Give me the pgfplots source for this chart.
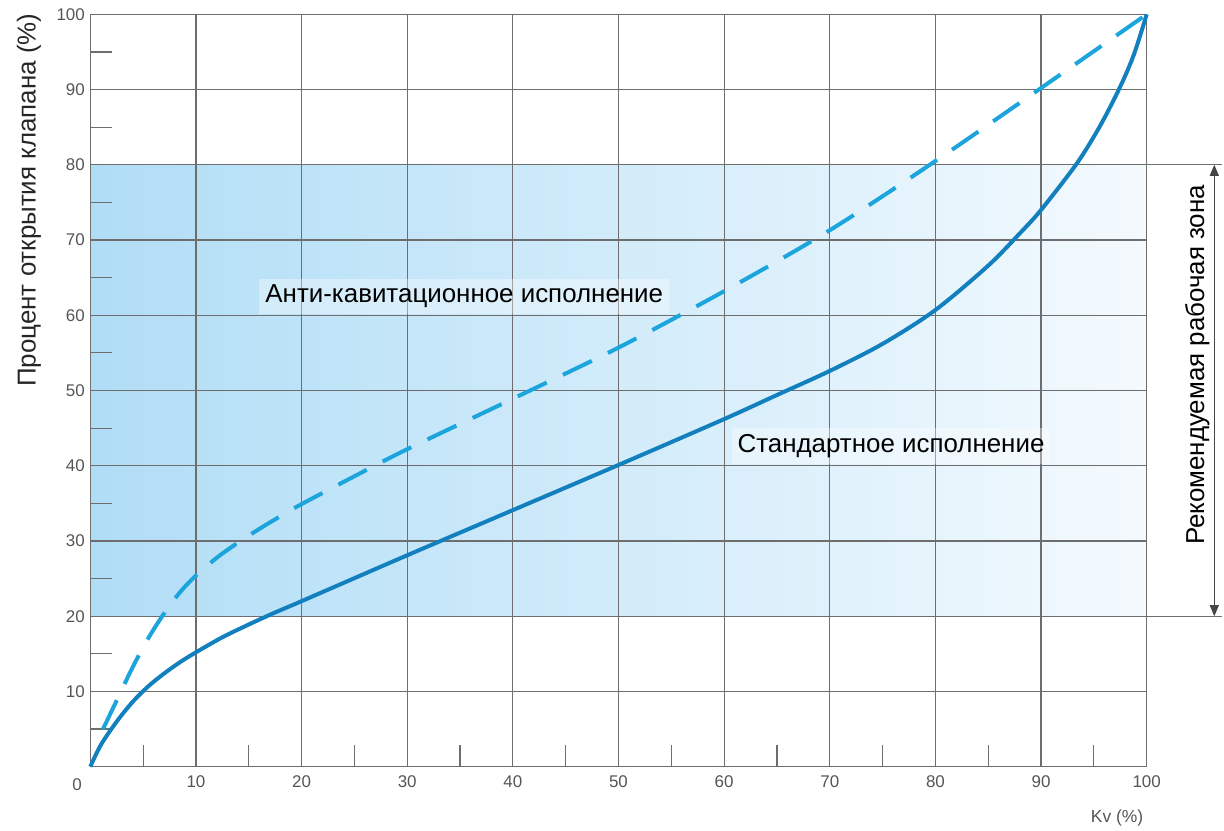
\documentclass[border=0pt]{standalone}
\usepackage{fontspec}
\setmainfont{Liberation Sans}
\usepackage{pgfplots}
\pgfplotsset{compat=1.18}
\usetikzlibrary{arrows.meta}
\definecolor{bandL}{RGB}{176,221,246}
\definecolor{bandR}{RGB}{244,250,254}
\definecolor{solidc}{RGB}{18,128,190}
\definecolor{dashc}{RGB}{28,164,220}
\definecolor{gridc}{RGB}{110,110,110}
\definecolor{tickc}{RGB}{85,85,85}
\definecolor{annc}{RGB}{70,70,70}
\begin{document}
\begin{tikzpicture}
\begin{axis}[
  set layers,
  at={(0,0)}, anchor=south west,
  scale only axis, width=1056.4bp, height=752.4bp,
  xmin=0, xmax=100, ymin=0, ymax=100,
  clip=false,
  xtick={10,20,...,100}, ytick={10,20,...,100},
  minor xtick={5,15,...,95}, minor ytick={5,15,...,95},
  major tick length=0pt, minor tick length=22bp,
  tick align=inside, tick pos=left,
  grid=major,
  major grid style={gridc, line width=1.2bp},
  minor tick style={gridc, line width=1.2bp},
  axis line style={gridc, line width=1.3bp},
  /pgf/number format/assume math mode=true,
  tick label style={font=\fontsize{17}{20}\selectfont, text=tickc},
  yticklabel style={xshift=-2bp},
  xticklabel style={yshift=-5bp},
]
\addplot[draw=none, left color=bandL, right color=bandR, on layer=axis background]
  coordinates {(0,20) (100,20) (100,80) (0,80)} -- cycle;

% standard (solid)
\addplot[solidc, line width=4bp, smooth, tension=0.5] coordinates {
(0,0) (1,2.9) (2.5,6.0) (4,8.6) (5.5,10.7) (7,12.4) (8.5,13.9) (10,15.2)
(12.5,17.2) (15,18.9) (17.5,20.5) (20,22.0) (30,28.1) (40,34.1) (50,40.1)
(60,46.2) (65,49.4) (70,52.6) (75,56.2) (80,60.7) (85,66.6) (88,70.9) (90,74.0)
(93.4,80.2) (95.6,85.2) (97.5,90.4) (98.8,94.7) (100,100)};

% anti-cavitation (dashed)
\addplot[dashc, line width=4bp, smooth, tension=0.5, dash pattern=on 32bp off 18bp] coordinates {
(1.2,5) (2.5,8.8) (4,13.2) (5.5,17.1) (7,20.4) (8.5,23.2) (10,25.4) (12,27.8)
(14,29.8) (16,31.6) (18,33.3) (20,34.9) (25,38.6) (30,42.2) (40,48.9) (50,55.7)
(60,63.2) (70,71.3) (80,80.5) (90,90.2) (100,100)};

\node[fill=white, fill opacity=0.35, text opacity=1, inner sep=6bp,
  font=\fontsize{26}{30}\selectfont] at (axis cs:35.4,62.5) {Анти-кавитационное исполнение};
\node[fill=white, fill opacity=0.35, text opacity=1, inner sep=6bp,
  font=\fontsize{26}{30}\selectfont] at (axis cs:75.8,42.6) {Стандартное исполнение};

\node[font=\fontsize{17}{20}\selectfont, text=tickc] at (axis cs:-1.25,-2.4) {0};
\node[font=\fontsize{17.5}{20}\selectfont, text=tickc] at (axis cs:97.2,-6.8) {Kv (\%)};
\node[rotate=90, font=\fontsize{26}{30}\selectfont, text=black!85] at (axis cs:-5.8,75.3) {Процент открытия клапана (\%)};

\draw[gridc, line width=1.2bp] (axis cs:100,80) -- (axis cs:107.1,80);
\draw[gridc, line width=1.2bp] (axis cs:100,20) -- (axis cs:107.1,20);
\draw[annc, line width=1.2bp, {Triangle[width=9bp,length=11bp]}-{Triangle[width=9bp,length=11bp]}]
  (axis cs:106.4,80) -- (axis cs:106.4,20);
\node[rotate=90, font=\fontsize{26}{30}\selectfont] at (axis cs:104.8,53.4) {Рекомендуемая рабочая зона};
\end{axis}
\path (-90.3bp,-64.3bp) rectangle (1133.7bp,766.7bp);
\end{tikzpicture}
\end{document}
